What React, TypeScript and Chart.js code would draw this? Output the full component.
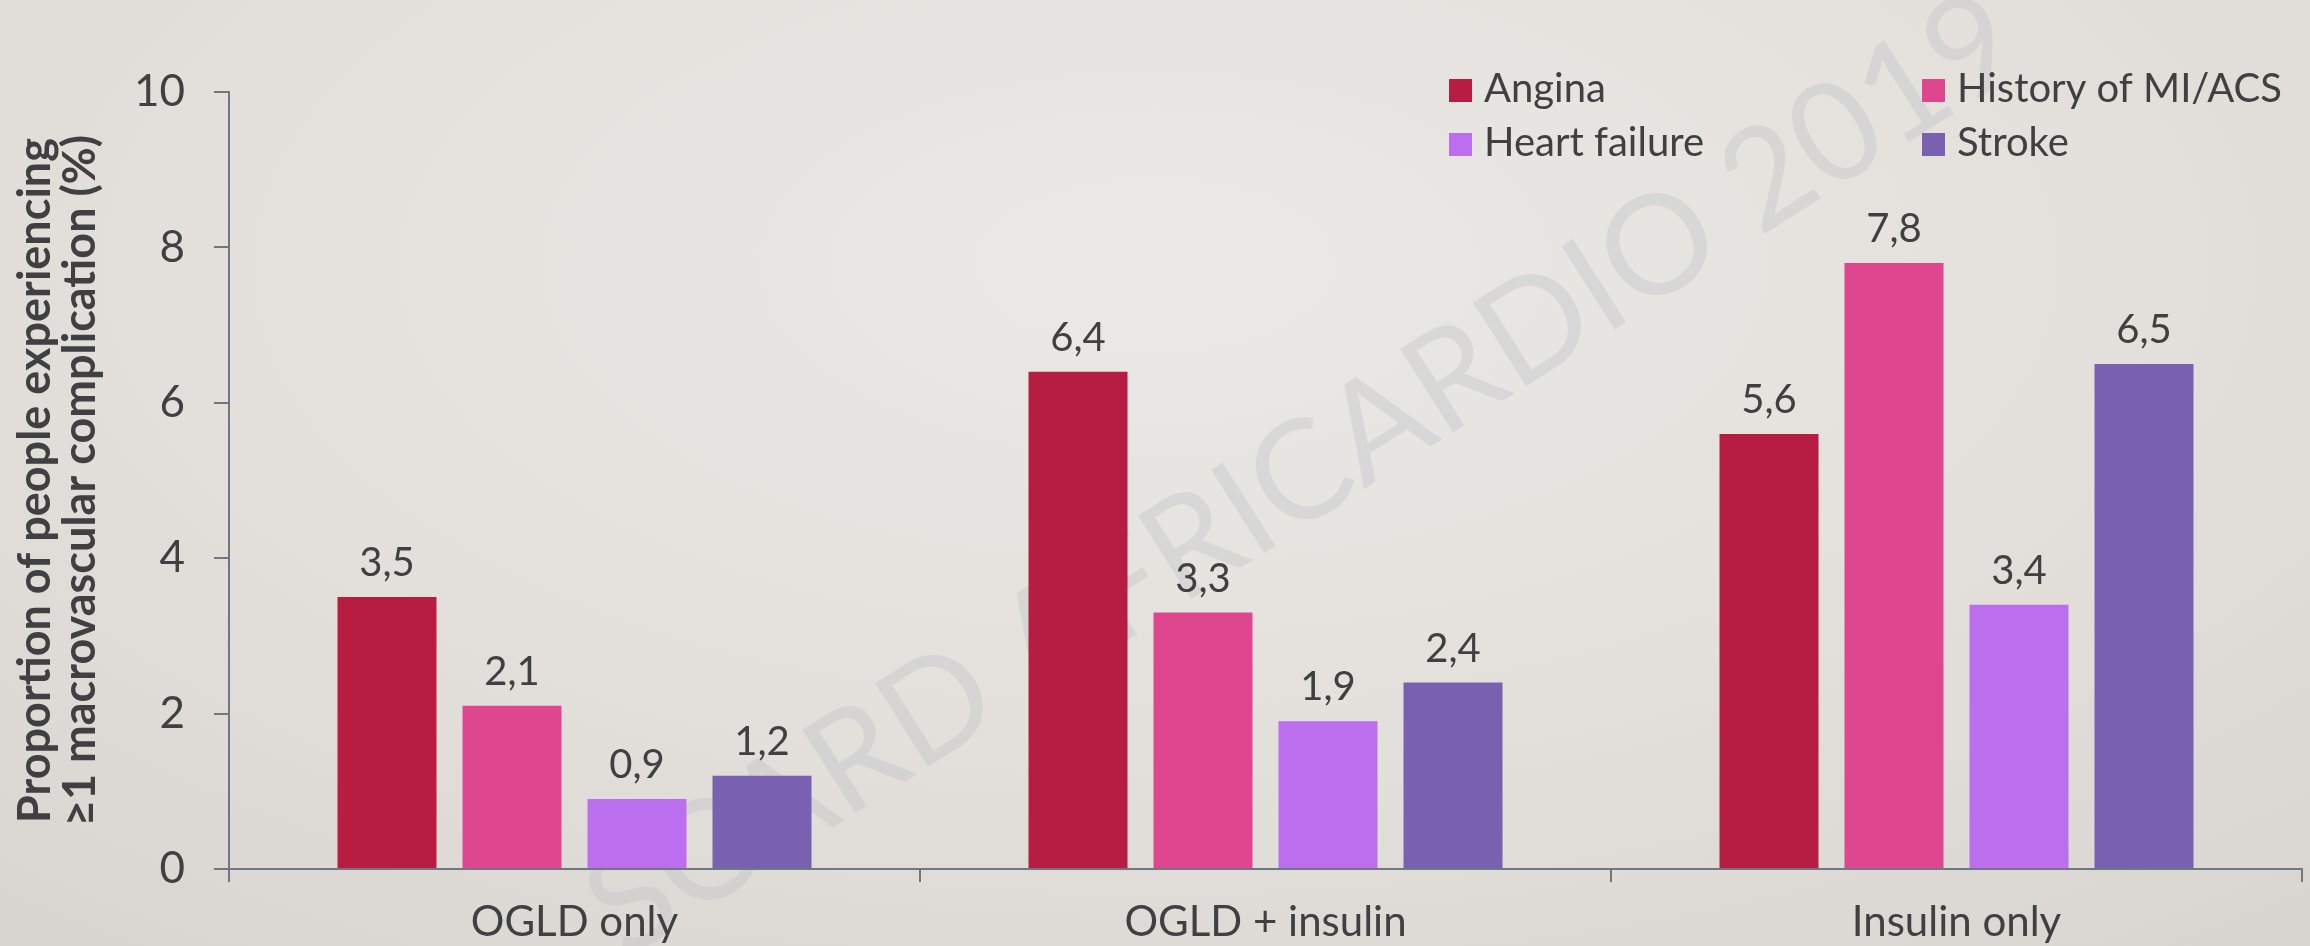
import React, { useEffect, useRef } from 'react';
import { Chart, registerables } from 'chart.js';

Chart.register(...registerables);

// ---- data ----
const categories = ['OGLD only', 'OGLD + insulin', 'Insulin only'];
const seriesNames = ['Angina', 'History of MI/ACS', 'Heart failure', 'Stroke'];
const angina = [3.5, 6.4, 5.6];
const historyMiAcs = [2.1, 3.3, 7.8];
const heartFailure = [0.9, 1.9, 3.4];
const stroke = [1.2, 2.4, 6.5];
const yTickValues = [0, 2, 4, 6, 8, 10];
const yTitleLines = ['Proportion of people experiencing', '\u22651 macrovascular complication (%)'];
const watermarkText = 'SCARD AFRICARDIO 2019';

const seriesValues = [angina, historyMiAcs, heartFailure, stroke];
const seriesColors = ['#b71c42', '#de4790', '#bb6eee', '#7960b0'];

const W = 2310;
const H = 946;
const FONT = 'Lato, "Open Sans", sans-serif';
const TEXT = '#404042';
const AXIS = '#6e7782';

const fmt = (v: number) => String(v).replace('.', ',');

const watermarkPlugin = {
  id: 'watermark',
  beforeDraw(chart: any) {
    const ctx = chart.ctx;
    ctx.save();
    ctx.translate(625, 960);
    ctx.rotate((-32.5 * Math.PI) / 180);
    ctx.font = `138px ${FONT}`;
    ctx.fillStyle = 'rgba(188,190,196,0.36)';
    ctx.textBaseline = 'alphabetic';
    ctx.textAlign = 'left';
    ctx.fillText(watermarkText, 0, 0);
    ctx.restore();
  },
};

const valueLabelPlugin = {
  id: 'valueLabels',
  afterDatasetsDraw(chart: any) {
    const ctx = chart.ctx;
    ctx.save();
    ctx.font = `40px ${FONT}`;
    ctx.fillStyle = TEXT;
    ctx.textAlign = 'center';
    ctx.textBaseline = 'alphabetic';
    chart.data.datasets.forEach((ds: any, i: number) => {
      const meta = chart.getDatasetMeta(i);
      meta.data.forEach((bar: any, j: number) => {
        ctx.fillText(fmt(ds.data[j]), bar.x, bar.y - 21);
      });
    });
    ctx.restore();
  },
};

const gridLegendPlugin = {
  id: 'gridLegend',
  afterDraw(chart: any) {
    const ctx = chart.ctx;
    const colX = [1449, 1922];
    const rowY = [79, 133];
    const box = 23;
    ctx.save();
    ctx.font = `40px ${FONT}`;
    ctx.textAlign = 'left';
    ctx.textBaseline = 'alphabetic';
    chart.data.datasets.forEach((ds: any, i: number) => {
      const x = colX[i % 2];
      const y = rowY[Math.floor(i / 2)];
      ctx.fillStyle = ds.backgroundColor;
      ctx.fillRect(x, y, box, box);
      ctx.fillStyle = TEXT;
      ctx.fillText(ds.label, x + box + 12, y + box);
    });
    ctx.restore();
  },
};

export default function App() {
  const ref = useRef<HTMLCanvasElement>(null);

  useEffect(() => {
    if (!ref.current) return;
    const chart = new Chart(ref.current, {
      type: 'bar',
      data: {
        labels: categories,
        datasets: seriesNames.map((name, i) => ({
          label: name,
          data: seriesValues[i],
          backgroundColor: seriesColors[i],
          borderWidth: 0,
          categoryPercentage: 0.7236,
          barPercentage: 0.792,
        })),
      },
      options: {
        responsive: false,
        animation: false,
        devicePixelRatio: 1,
        layout: { padding: { top: 92, right: 8, bottom: 0, left: 0 } },
        plugins: {
          legend: { display: false },
          tooltip: { enabled: false },
        },
        scales: {
          x: {
            offset: true,
            grid: {
              offset: true,
              drawOnChartArea: false,
              drawTicks: true,
              tickLength: 13,
              color: AXIS,
              lineWidth: 2,
            },
            border: { display: true, color: AXIS, width: 2 },
            ticks: {
              color: TEXT,
              font: { family: FONT, size: 42 },
              padding: 15,
              maxRotation: 0,
              autoSkip: false,
            },
            afterFit(scale: any) {
              scale.height = H - 869;
              scale.paddingLeft = 0;
              scale.paddingRight = 0;
              scale.paddingTop = 0;
              scale.paddingBottom = 0;
            },
          },
          y: {
            min: 0,
            max: 10,
            afterBuildTicks(scale: any) {
              scale.ticks = yTickValues.map((v) => ({ value: v }));
            },
            grid: {
              drawOnChartArea: false,
              drawTicks: true,
              tickLength: 15,
              color: AXIS,
              lineWidth: 2,
            },
            border: { display: true, color: AXIS, width: 2 },
            ticks: {
              color: TEXT,
              font: { family: FONT, size: 44 },
              padding: 29,
            },
            title: {
              display: true,
              text: yTitleLines,
              color: TEXT,
              font: { family: FONT, size: 45, weight: 'bold', lineHeight: '45px' },
              padding: { top: 13, bottom: 0 },
            },
            afterFit(scale: any) {
              scale.width = 229;
              scale.paddingLeft = 0;
              scale.paddingRight = 0;
              scale.paddingTop = 0;
              scale.paddingBottom = 0;
            },
          },
        },
      },
      plugins: [watermarkPlugin, valueLabelPlugin, gridLegendPlugin],
    } as any);
    return () => chart.destroy();
  }, []);

  return (
    <div
      style={{
        position: 'absolute',
        left: 0,
        top: 0,
        width: W,
        height: H,
        overflow: 'hidden',
        background:
          'radial-gradient(ellipse 80% 95% at 50% 28%, #ebe9e5 0%, #e4e1dd 50%, #d8d5d0 100%)',
      }}
    >
      <canvas ref={ref} width={W} height={H} style={{ width: W, height: H, display: 'block' }} />
    </div>
  );
}
